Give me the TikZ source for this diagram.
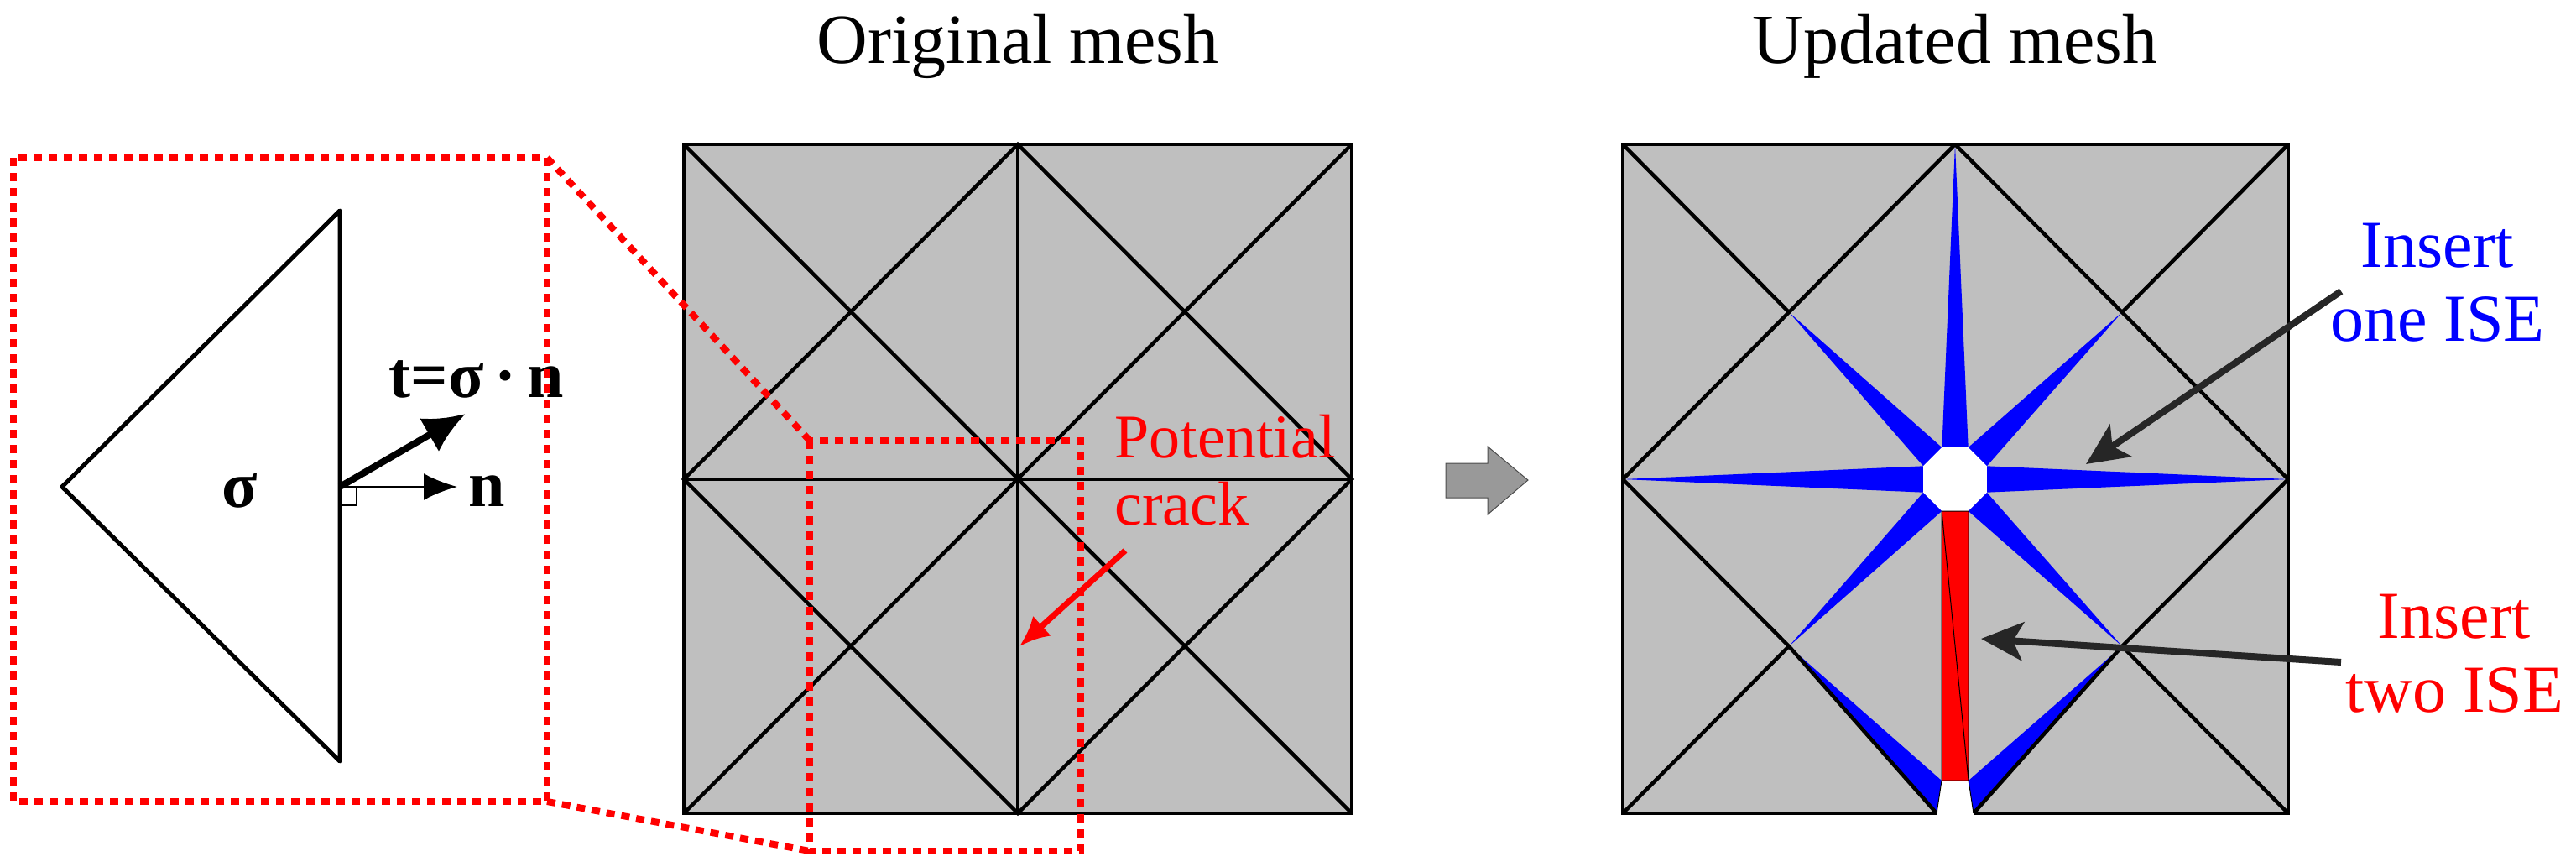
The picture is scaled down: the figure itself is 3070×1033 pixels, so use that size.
\documentclass[tikz,border=0pt]{standalone}
\usepackage{fontspec}
\setmainfont{Liberation Serif}
\usetikzlibrary{arrows.meta,calc}
\begin{document}
\begin{tikzpicture}[x=1pt,y=-1pt,
  meshline/.style={black,line width=4.5pt},
  reddot/.style={red,line width=8pt,dash pattern=on 10pt off 8pt},
  title/.style={font=\fontsize{84}{90}\selectfont},
  lbl/.style={font=\fontsize{80}{88}\selectfont,align=center},
  bold/.style={font=\bfseries\fontsize{78}{84}\selectfont}]
\useasboundingbox (0,0) rectangle (3070,1033);
% ---------- left zoom box ----------
\coordinate (tA) at (405,251); \coordinate (tB) at (74,580); \coordinate (tC) at (405,907);
\coordinate (P) at (405,580);
\draw[line width=5pt,line join=round] (tA) -- (tB) -- (tC) -- cycle;
\draw[line width=2.5pt] (405,580) rectangle (425,602);
\node[bold] (sig) at (286,585) {σ};
\coordinate (nEnd) at (545,580);
\coordinate (tEnd) at (555,493);
\draw[line width=3pt,-{Latex[length=40pt,width=32pt]}] (P) -- (nEnd);
\draw[line width=8pt,-{Latex[length=50pt,width=46pt]}] (P) -- (tEnd);
\node[bold,anchor=west] (nl) at (555,585) {n};
\node[bold] (tl) at (568,452) {t=σ\,·\,n};
% ---------- original mesh ----------
\node[title] (t1) at (1213,55) {Original mesh};
\fill[gray!50] (815,172) rectangle (1611,969);
\draw[meshline] (815,172) rectangle (1611,969);
\draw[meshline] (1213,172) -- (1213,969) (815,571) -- (1611,571);
\draw[meshline] (815,172) -- (1611,969) (1611,172) -- (815,969);
\draw[meshline] (1213,172) -- (1611,571) -- (1213,969) -- (815,571) -- cycle;
\draw[reddot] (16,188) rectangle (652,955);
\draw[reddot] (652,188) -- (965,525);
\draw[reddot] (652,955) -- (965,1014);
\draw[reddot] (965,525) rectangle (1288,1014);
\node[lbl,red,align=left,font=\fontsize{74}{80}\selectfont] (pc) at (1460,560) {Potential\\crack};
\draw[red,line width=7pt,-{Latex[length=36pt,width=32pt]}] (1341,656) -- (1215,770);
% ---------- grey arrow ----------
\fill[gray!80,draw=gray!60!black,line width=1pt] (1723,552) -- (1773,552) -- (1773,532) -- (1821,572) -- (1773,613) -- (1773,593) -- (1723,593) -- cycle;
% ---------- updated mesh ----------
\node[title] (t2) at (2330,55) {Updated mesh};
\coordinate (C) at (2330,571);
\fill[gray!50] (1934,172) rectangle (2727,969);
\foreach \ang/\tx/\ty in {90/2330/172,180/1934/571,0/2727/571,45/2529/372,135/2132/372,225/2132/770,315/2529/770}{
  \fill[blue] ($(C)+({-\ang+22.5}:41)$) -- (\tx,\ty) -- ($(C)+({-\ang-22.5}:41)$) -- cycle;
}
\fill[blue] (2132,770) -- (2314,930) -- (2308,969) -- cycle;
\fill[blue] (2529,770) -- (2346,930) -- (2352,969) -- cycle;
\fill[white] ($(C)+(22.5:41)$) -- ($(C)+(67.5:41)$) -- ($(C)+(112.5:41)$) -- ($(C)+(157.5:41)$) -- ($(C)+(202.5:41)$) -- ($(C)+(247.5:41)$) -- ($(C)+(292.5:41)$) -- ($(C)+(337.5:41)$) -- cycle;
\fill[red] (2314,609) rectangle (2346,930);
\draw[line width=1pt] (2314,609) rectangle (2346,930) (2314,609) -- (2346,930);
\fill[white] (2314,930) -- (2346,930) -- (2352,969) -- (2308,969) -- cycle;
\draw[line width=1pt] (2314,930) -- (2308,969) (2346,930) -- (2352,969);
\draw[meshline] (2308,969) -- (1934,969) -- (1934,172) -- (2727,172) -- (2727,969) -- (2352,969);
\draw[meshline] (1934,172) -- (2132,372) (2330,172) -- (2132,372) (1934,571) -- (2132,372);
\draw[meshline] (2727,172) -- (2529,372) (2330,172) -- (2529,372) (2727,571) -- (2529,372);
\draw[meshline] (1934,969) -- (2132,770) (1934,571) -- (2132,770) (2308,969) -- (2132,770);
\draw[meshline] (2727,969) -- (2529,770) (2727,571) -- (2529,770) (2352,969) -- (2529,770);
\node[lbl,blue] (one) at (2905,337) {Insert\\one ISE};
\node[lbl,red] (two) at (2925,779) {Insert\\two ISE};
\draw[black!85,line width=8pt,-{Stealth[length=50pt,width=46pt,inset=12pt]}] (2790,347) -- (2486,553);
\draw[black!85,line width=8pt,-{Stealth[length=50pt,width=46pt,inset=12pt]}] (2790,789) -- (2361,761);
\end{tikzpicture}
\end{document}
